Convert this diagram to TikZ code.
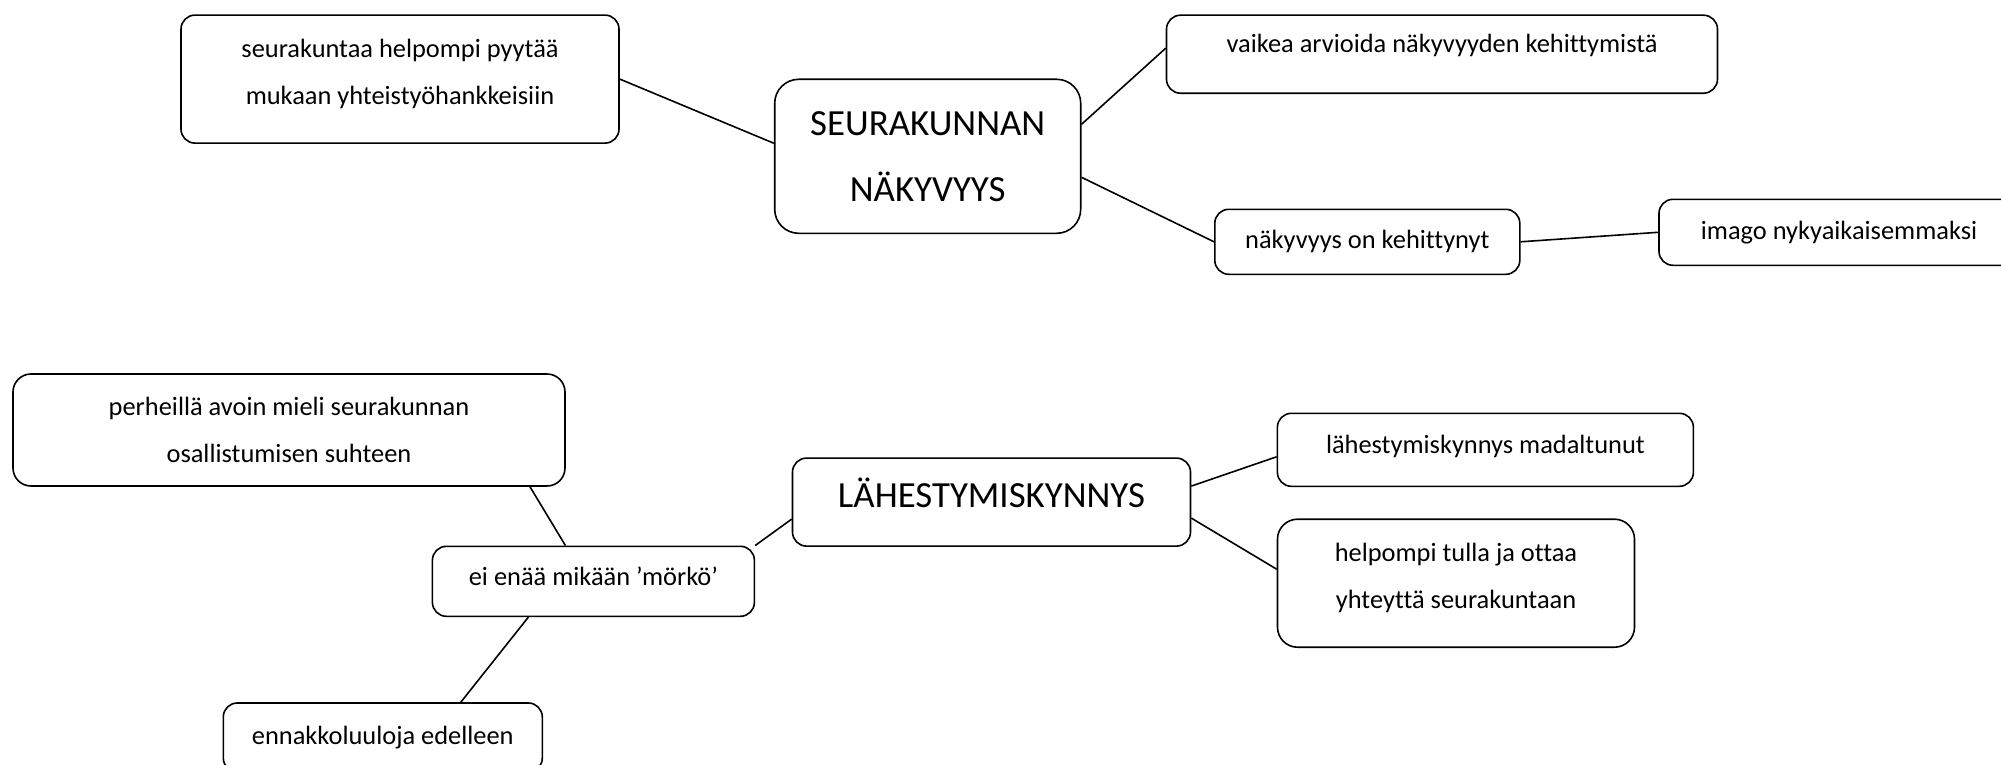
\documentclass[tikz,border=0pt]{standalone}
\usepackage{fontspec}
\setmainfont{Carlito}[Ligatures=NoCommon]
\begin{document}
\begin{tikzpicture}[x=1bp,y=-1bp,
    box/.style={draw,line width=1.6bp,rounded corners=14bp,align=center,inner sep=0pt,
      font=\fontsize{26.5}{47}\selectfont},
    mainbox/.style={box,rounded corners=24bp,font=\fontsize{37}{66}\selectfont}]
    \useasboundingbox (0,0) rectangle (2001,765);
    % seurakunnan nakyvyys
    \node[mainbox,minimum width=306bp,minimum height=154bp] (nakyvyys) at (927.7,156.3) {SEURAKUNNAN\\NÄKYVYYS};
    \node[box,minimum width=438bp,minimum height=128bp] (pyytaa) at (400,79.1) {seurakuntaa helpompi pyytää\\mukaan yhteistyöhankkeisiin\rule[-15bp]{0pt}{15bp}};
    \node[box,minimum width=551bp,minimum height=78bp] (vaikea) at (1442,54.2) {vaikea arvioida näkyvyyden kehittymistä\rule[-22bp]{0pt}{22bp}};
    \node[box,minimum width=305bp,minimum height=65bp] (kehittynyt) at (1367.3,241.8) {näkyvyys on kehittynyt};
    \node[box,minimum width=360bp,minimum height=66bp] (imago) at (1839,232.3) {imago nykyaikaisemmaksi};
    \draw[line width=1.6bp] (pyytaa.east) -- ([yshift=13bp]nakyvyys.west);
    \draw[line width=1.6bp] ([yshift=32bp]nakyvyys.east) -- ([yshift=6bp]vaikea.west);
    \draw[line width=1.6bp] ([yshift=-21bp]nakyvyys.east) -- (kehittynyt.west);
    \draw[line width=1.6bp] (kehittynyt.east) -- (imago.west);
    % lahestymiskynnys
    \node[mainbox,minimum width=398bp,minimum height=88bp,rounded corners=14bp] (kynnys) at (991.5,502.1) {LÄHESTYMISKYNNYS\rule[-18bp]{0pt}{18bp}};
    \node[box,minimum width=416bp,minimum height=73bp] (madaltunut) at (1485.4,449.8) {lähestymiskynnys madaltunut\rule[-11bp]{0pt}{11bp}};
    \node[box,minimum width=357bp,minimum height=128bp,rounded corners=20bp] (tulla) at (1456,583.2) {helpompi tulla ja ottaa\\yhteyttä seurakuntaan\rule[-14bp]{0pt}{14bp}};
    \node[box,minimum width=322bp,minimum height=70bp] (morko) at (593.4,581.3) {ei enää mikään ’mörkö’\rule[-10bp]{0pt}{10bp}};
    \node[box,minimum width=552bp,minimum height=112bp,rounded corners=18bp] (perheet) at (289,430) {perheillä avoin mieli seurakunnan\\osallistumisen suhteen};
    \node[box,minimum width=319bp,minimum height=69bp] (ennakko) at (382.8,737.5) {ennakkoluuloja edelleen};
    \draw[line width=1.6bp] (morko.north east) -- ([yshift=-17bp]kynnys.west);
    \draw[line width=1.6bp] ([yshift=16bp]kynnys.east) -- ([yshift=-7bp]madaltunut.west);
    \draw[line width=1.6bp] ([yshift=-16bp]kynnys.east) -- ([yshift=14bp]tulla.west);
    \draw[line width=1.6bp] ([xshift=241bp]perheet.south) -- ([xshift=-28bp]morko.north);
    \draw[line width=1.6bp] ([xshift=-65bp]morko.south) -- ([xshift=78bp]ennakko.north);
\end{tikzpicture}
\end{document}
